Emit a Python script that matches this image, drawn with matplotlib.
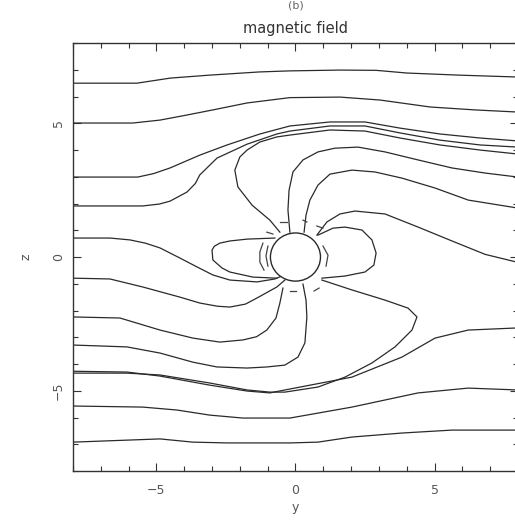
import matplotlib
matplotlib.use('Agg')
import matplotlib.pyplot as plt
from matplotlib.patches import Circle
from matplotlib.ticker import MultipleLocator

# ------------------------------- field lines (y horizontal, z vertical)
# open lines coming from the left edge
top1_y = [-8, -5.7, -4.5, -3.1, -1.3, -0.2, 1.6, 2.9, 4.0, 5.9, 8.0]
top1_z = [6.50, 6.50, 6.69, 6.80, 6.92, 6.96, 6.99, 6.98, 6.88, 6.80, 6.73]

top2_y = [-8, -5.85, -4.87, -3.9, -2.97, -1.74, -0.2, 1.6, 3.04, 4.84, 6.46, 8.0]
top2_z = [5.01, 5.01, 5.12, 5.31, 5.50, 5.76, 5.96, 5.98, 5.87, 5.61, 5.50, 5.42]

top3_y = [-8, -5.67, -5.1, -4.51, -3.44, -2.46, -1.28, -0.2, 1.24, 2.5, 3.76, 5.2, 6.64, 8.0]
top3_z = [2.99, 2.99, 3.12, 3.33, 3.81, 4.19, 4.60, 4.90, 5.05, 5.05, 4.82, 4.60, 4.45, 4.34]

top4_y = [-8, -5.49, -4.9, -4.51, -3.9, -3.6, -3.44, -2.82, -1.74, -0.67, -0.2, 1.24, 2.5, 3.76, 5.2, 6.64, 8.0]
top4_z = [1.91, 1.91, 1.98, 2.09, 2.43, 2.75, 3.07, 3.70, 4.22, 4.60, 4.71, 4.90, 4.90, 4.64, 4.37, 4.19, 4.11]

mid1_y = [-8, -6.67, -5.95, -5.4, -4.87, -4.15, -3.54, -2.97, -2.36, -1.38, -0.74, -0.49]
mid1_z = [0.71, 0.71, 0.64, 0.52, 0.34, -0.04, -0.37, -0.67, -0.86, -0.93, -0.82, -0.71]

mid2_y = [-8, -6.67, -5.49, -4.15, -3.44, -2.8, -2.36, -1.8, -1.38, -0.67, -0.38]
mid2_z = [-0.79, -0.82, -1.12, -1.50, -1.72, -1.84, -1.87, -1.76, -1.53, -1.12, -0.86]

low1_y = [-8, -6.31, -4.87, -3.69, -2.72, -1.89, -1.4, -1.03, -0.70, -0.56, -0.45]
low1_z = [-2.24, -2.28, -2.73, -3.03, -3.18, -3.10, -2.98, -2.73, -2.28, -1.72, -1.16]

low2_y = [-8, -6.06, -4.87, -3.69, -2.82, -1.74, -1.03, -0.38, 0.09, 0.34, 0.41, 0.38, 0.27]
low2_z = [-3.29, -3.36, -3.59, -3.93, -4.11, -4.15, -4.11, -4.04, -3.74, -3.21, -2.24, -1.61, -1.01]

low3_y = [-8, -6.06, -4.87, -3.08, -1.74, -0.92, -0.38, 0.81, 1.78, 2.75, 3.58, 4.19, 4.37, 4.05, 3.22, 2.03, 0.95]
low3_z = [-4.34, -4.34, -4.41, -4.71, -4.97, -5.05, -5.05, -4.86, -4.49, -3.96, -3.36, -2.73, -2.24, -1.91, -1.61, -1.23, -0.86]

low4_y = [-8, -6.06, -4.87, -3.08, -1.74, -0.92, -0.38, 2.03, 3.83, 5.02, 6.21, 8.0]
low4_z = [-4.27, -4.30, -4.45, -4.79, -5.01, -5.08, -4.97, -4.49, -3.74, -3.03, -2.73, -2.65]

low5_y = [-8, -5.49, -4.26, -3.08, -1.89, -0.2, 2.03, 4.41, 6.21, 8.0]
low5_z = [-5.57, -5.61, -5.72, -5.91, -6.02, -6.02, -5.61, -5.08, -4.90, -4.97]

low6_y = [-8, -4.87, -3.69, -2.46, -0.2, 0.81, 2.03, 3.83, 5.63, 8.0]
low6_z = [-6.92, -6.80, -6.92, -6.95, -6.95, -6.92, -6.73, -6.58, -6.47, -6.47]

# lines leaving the sphere on the upper side
up1_y = [-0.56, -0.92, -1.56, -2.07, -2.18, -2.0, -1.74, -1.28, -0.67, -0.2, 1.24, 2.5, 3.76, 5.2, 6.64, 8.0]
up1_z = [0.93, 1.38, 1.94, 2.62, 3.25, 3.74, 4.00, 4.30, 4.49, 4.56, 4.75, 4.71, 4.45, 4.19, 4.00, 3.85]

up2_y = [-0.2, -0.27, -0.23, -0.09, 0.27, 0.81, 1.42, 2.25, 3.22, 4.41, 5.63, 6.82, 8.0]
up2_z = [0.93, 1.76, 2.50, 3.18, 3.63, 3.93, 4.07, 4.11, 3.93, 3.63, 3.33, 3.14, 2.99]

up3_y = [0.31, 0.38, 0.52, 0.81, 1.24, 2.03, 2.86, 3.83, 5.02, 6.21, 8.0]
up3_z = [0.93, 1.57, 2.13, 2.69, 3.10, 3.25, 3.18, 2.95, 2.58, 2.13, 1.83]

up4_y = [0.77, 1.13, 1.60, 2.14, 3.22, 4.41, 5.63, 6.82, 8.0]
up4_z = [0.82, 1.31, 1.61, 1.72, 1.61, 1.12, 0.60, 0.10, -0.20]

# closed loops either side of the sphere
loopl_y = [-0.74, -1.74, -2.36, -2.72, -2.92, -3.0, -2.97, -2.64, -2.36, -1.53, -0.67]
loopl_z = [0.71, 0.67, 0.60, 0.52, 0.40, 0.26, -0.11, -0.41, -0.56, -0.75, -0.79]

loopr_y = [0.81, 1.35, 1.78, 2.39, 2.75, 2.90, 2.82, 2.50, 1.78, 0.95]
loopr_z = [0.82, 1.08, 1.12, 1.01, 0.64, 0.15, -0.30, -0.56, -0.71, -0.79]

# short stubs close to the sphere
stubs_y = [[-0.56, -0.31], [0.27, 0.41], [-1.03, -0.81], [0.77, 0.99],
           [-1.17, -1.28, -1.28, -1.13], [-0.99, -1.06, -0.99],
           [0.99, 1.17, 1.10], [-0.2, 0.02], [0.67, 0.85]]
stubs_z = [[1.31, 1.31], [1.38, 1.31], [0.93, 0.86], [1.16, 1.08],
           [0.52, 0.19, -0.19, -0.49], [0.41, 0.04, -0.34],
           [0.41, 0.07, -0.34], [-1.27, -1.27], [-1.27, -1.16]]

sphere_r = 0.9

lines = [(top1_y, top1_z), (top2_y, top2_z), (top3_y, top3_z), (top4_y, top4_z),
         (mid1_y, mid1_z), (mid2_y, mid2_z),
         (low1_y, low1_z), (low2_y, low2_z), (low3_y, low3_z), (low4_y, low4_z),
         (low5_y, low5_z), (low6_y, low6_z),
         (up1_y, up1_z), (up2_y, up2_z), (up3_y, up3_z), (up4_y, up4_z),
         (loopl_y, loopl_z), (loopr_y, loopr_z)]

# ------------------------------- plot
fig = plt.figure(figsize=(5.15, 5.2), dpi=100)
ax = fig.add_axes([0.1417, 0.0942, 0.864, 0.823])

for yy, zz in lines:
    ax.plot(yy, zz, color='#2a2a2a', lw=0.9)
for yy, zz in zip(stubs_y, stubs_z):
    ax.plot(yy, zz, color='#444444', lw=0.9)

ax.add_patch(Circle((0, 0), sphere_r, facecolor='white', edgecolor='#2a2a2a', lw=1.0, zorder=3))

ax.set_xlim(-8, 8)
ax.set_ylim(-8, 8)
ax.xaxis.set_major_locator(MultipleLocator(5))
ax.xaxis.set_minor_locator(MultipleLocator(1))
ax.yaxis.set_major_locator(MultipleLocator(5))
ax.yaxis.set_minor_locator(MultipleLocator(1))
ax.tick_params(which='both', direction='in', top=True, right=True, colors='#333333',
               labelcolor='#555555', labelsize=9)
ax.tick_params(which='major', length=6, width=0.8)
ax.tick_params(which='minor', length=3.5, width=0.8)
ax.tick_params(axis='x', pad=9)
ax.tick_params(axis='y', pad=6)
for lab in ax.get_yticklabels():
    lab.set_rotation(90)
    lab.set_va('center')
for sp in ax.spines.values():
    sp.set_color('#333333')
    sp.set_linewidth(1.0)

ax.set_xlabel('y', fontsize=9, color='#555555', labelpad=3)
ax.set_ylabel('z', fontsize=9, color='#555555', labelpad=14)
ax.set_title('magnetic field', fontsize=10.5, color='#333333', pad=7)
fig.text(0.575, 0.999, '(b)', ha='center', va='top', fontsize=8, color='#666666')

fig.savefig('out.png', dpi=100, facecolor='white')
